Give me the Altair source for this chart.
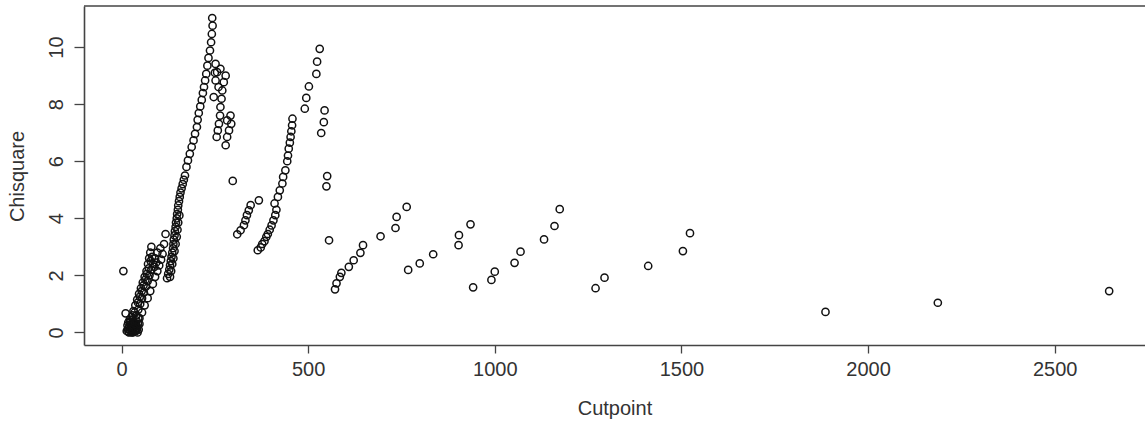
import altair as alt
import pandas as pd

# --- data (Cutpoint, Chisquare) ---
cut_blob = [5, 11, 14, 17, 19, 21, 23, 25, 26, 28, 29, 31, 33, 35, 36, 38, 40, 42, 44, 46, 20, 24, 30, 34, 37,
            16, 18, 22, 27, 32, 39, 41, 43, 26, 30, 36, 45, 48]
chi_blob = [2.15, 0.67, 0.05, 0.12, 0.02, 0.20, 0.08, 0.15, 0.30, 0.05, 0.22, 0.10, 0.35, 0.18, 0.05, 0.28, 0.42, 0.15, 0.30, 0.10, 0.00, 0.38, 0.00, 0.25, 0.12,
            0.25, 0.35, 0.45, 0.00, 0.02, 0.05, 0.22, 0.00, 0.12, 0.45, 0.30, 0.50, 0.30]

cut_band1 = [22, 27, 32, 37, 42, 47, 52, 57, 62, 67, 71, 74, 77, 80,
             40, 45, 50, 55, 60, 65, 70, 75, 80, 85, 90, 96,
             48, 55, 62, 70, 77, 84, 90, 96, 101, 106, 110, 104, 114, 118,
             30, 35, 44, 49, 54, 59, 64, 68, 73, 78, 82, 88, 93]
chi_band1 = [0.35, 0.55, 0.75, 0.95, 1.15, 1.35, 1.55, 1.75, 1.95, 2.15, 2.40, 2.60, 2.80, 3.00,
             0.60, 0.80, 1.00, 1.20, 1.40, 1.60, 1.80, 2.00, 2.20, 2.40, 2.60, 2.80,
             0.50, 0.70, 0.95, 1.20, 1.45, 1.70, 1.95, 2.15, 2.35, 2.55, 2.75, 2.95, 3.10, 3.45,
             0.60, 0.70, 1.05, 1.25, 1.45, 1.65, 1.85, 2.05, 2.25, 2.50, 2.65, 2.30, 2.45]

cut_band2 = [122, 125, 128, 130, 132, 134, 136, 138, 139, 140, 142, 143, 145, 146, 148, 149, 151, 152, 154, 156,
             158, 161, 164, 167, 170, 174, 178, 183, 188, 193, 197, 202, 204, 207, 211, 215, 218, 221, 224, 227,
             230, 233, 237, 240, 242, 244, 243,
             130, 133, 136, 139, 142, 145, 148, 150, 152, 155]
chi_band2 = [1.90, 2.05, 2.20, 2.35, 2.50, 2.65, 2.80, 2.95, 3.10, 3.25, 3.40, 3.55, 3.70, 3.85, 4.00, 4.15, 4.30, 4.45, 4.60, 4.75,
             4.90, 5.05, 5.20, 5.35, 5.50, 5.80, 6.03, 6.26, 6.50, 6.73, 6.96, 7.20, 7.45, 7.69, 7.92, 8.15, 8.39, 8.60, 8.83, 9.06,
             9.35, 9.62, 9.88, 10.17, 10.46, 10.75, 11.02,
             1.95, 2.15, 2.40, 2.60, 2.85, 3.10, 3.35, 3.60, 3.85, 4.10]

cut_peak = [252, 256, 265, 279, 274, 252, 270, 247, 268, 265, 264, 261, 258, 255, 283, 292, 294, 288, 283, 279, 250, 260]
chi_peak = [9.41, 9.12, 9.24, 9.00, 8.77, 8.83, 8.48, 8.25, 8.19, 7.90, 7.60, 7.31, 7.08, 6.85, 7.43, 7.60, 7.31, 7.08, 6.85, 6.56, 9.10, 8.60]

cut_mid = [298, 310, 319, 328, 332, 336, 341, 346, 368,
           365, 373, 377, 383, 388, 392, 397, 402, 407, 412, 415,
           410, 419, 424, 431, 433, 439, 444, 446, 448, 451, 453, 455, 457, 458,
           491, 495, 502, 522, 524, 531, 544, 542, 535, 551, 549, 556]
chi_mid = [5.31, 3.44, 3.58, 3.76, 3.93, 4.11, 4.28, 4.46, 4.63,
           2.88, 2.98, 3.10, 3.20, 3.35, 3.45, 3.60, 3.75, 3.93, 4.11, 4.30,
           4.52, 4.75, 4.98, 5.22, 5.45, 5.68, 6.00, 6.20, 6.44, 6.65, 6.85, 7.05, 7.26, 7.49,
           7.84, 8.22, 8.62, 9.06, 9.49, 9.94, 7.78, 7.37, 6.99, 5.48, 5.12, 3.23]

cut_tail = [572, 576, 585, 589, 609, 622, 640, 647, 694, 734, 737, 764, 768, 799, 835, 903, 904, 935,
            942, 991, 1000, 1053, 1069, 1132, 1160, 1174, 1270, 1294, 1411, 1504, 1523, 1886, 2187, 2646]
chi_tail = [1.51, 1.72, 1.95, 2.09, 2.30, 2.53, 2.79, 3.06, 3.37, 3.66, 4.05, 4.40, 2.19, 2.42, 2.74, 3.06, 3.41, 3.79,
            1.58, 1.84, 2.13, 2.44, 2.83, 3.26, 3.73, 4.32, 1.55, 1.92, 2.33, 2.85, 3.48, 0.72, 1.04, 1.45]

x_ticks = [0, 500, 1000, 1500, 2000, 2500]
y_ticks = [0, 2, 4, 6, 8, 10]

cut = cut_blob + cut_band1 + cut_band2 + cut_peak + cut_mid + cut_tail
chi = chi_blob + chi_band1 + chi_band2 + chi_peak + chi_mid + chi_tail
df = pd.DataFrame({"Cutpoint": cut, "Chisquare": chi})

W = 1061
H = 339
FONT = "Liberation Sans"
AX = "#444444"
TXT = "#333333"

points = alt.Chart(df).mark_point(
    shape="circle", filled=False, size=52, strokeWidth=1.5, color="#111111", opacity=1
).encode(
    x=alt.X(
        "Cutpoint:Q",
        scale=alt.Scale(domain=[-100.5, 2742], nice=False, zero=False),
        axis=alt.Axis(
            values=x_ticks, format="d", grid=False, tickSize=8, tickColor=AX, tickWidth=1.3,
            domainColor=AX, domainWidth=1.6, labelFont=FONT, labelFontSize=20, labelColor=TXT,
            labelPadding=6, title="Cutpoint", titleFont=FONT, titleFontSize=20,
            titleFontWeight="normal", titleColor=TXT, titleY=63, titleBaseline="middle",
        ),
    ),
    y=alt.Y(
        "Chisquare:Q",
        scale=alt.Scale(domain=[-0.44, 11.44], nice=False, zero=False),
        axis=alt.Axis(
            values=y_ticks, grid=False, tickSize=10, tickColor=AX, tickWidth=1.3,
            domainColor=AX, domainWidth=1.6, labelFont=FONT, labelFontSize=20, labelColor=TXT,
            labelAngle=270, labelAlign="center", labelBaseline="bottom", labelPadding=8,
            title="Chisquare", titleFont=FONT, titleFontSize=20, titleFontWeight="normal",
            titleColor=TXT, titleX=-67, titleY=170, titleAlign="center", titleBaseline="middle",
        ),
    ),
)

top_rule = alt.Chart(pd.DataFrame({"v": [0]})).mark_rule(color=AX, strokeWidth=1.6).encode(
    x=alt.value(0), x2=alt.value(W + 10), y=alt.value(0)
)

chart = alt.layer(points, top_rule).properties(
    width=W, height=H,
    padding={"left": 84, "top": 6, "right": 0, "bottom": 80},
    autosize=alt.AutoSizeParams(type="none"),
    background="white",
).configure_view(stroke=None)

chart.save("out.html", embed_options={"renderer": "svg", "actions": False})
